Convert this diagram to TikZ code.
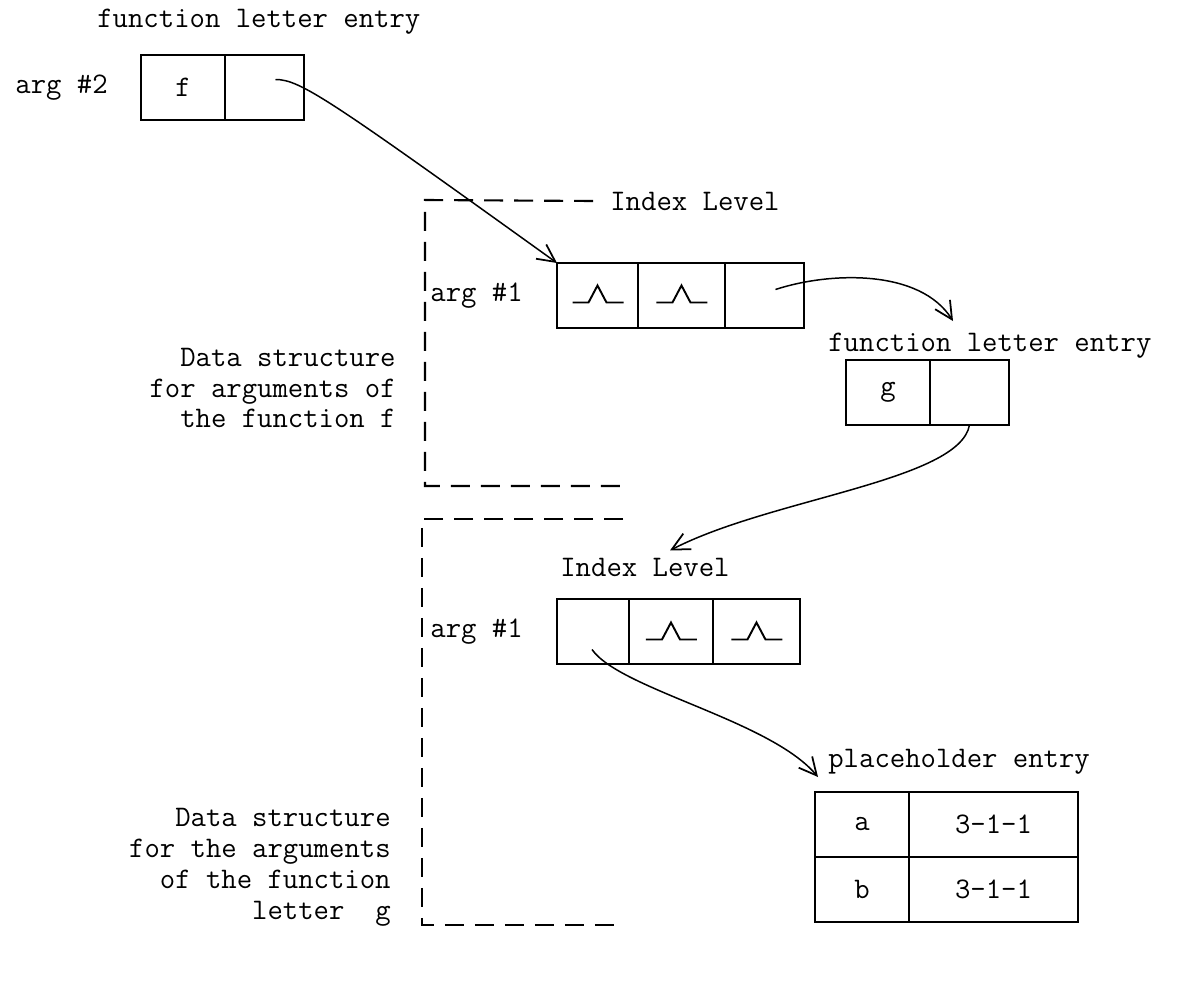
\documentclass[tikz,border=0pt]{standalone}
\usepackage{tikz}
\usetikzlibrary{calc, positioning, arrows.meta}

\begin{document}
\begin{tikzpicture}[x=0.02cm, y=-0.02cm,
    font=\ttfamily\fontsize{17}{17.6}\selectfont,
    peak/.pic={\draw[line width=1.1pt] (-25,7) -- (-9,7) -- (0,-10) -- (9,7) -- (26,7);}]
    % one field of an entry
    \tikzstyle{slot}=[draw, line width=1.2pt, minimum height=1.3cm, inner sep=0pt, outer sep=0pt]
    % plain labels
    \tikzstyle{lbl}=[inner sep=0pt]
    % pointer from a field to an entry
    \tikzstyle{ptr}=[-{Straight Barb[length=10pt,width=10pt,line width=1pt]}, line width=0.85pt]
    % dashed frame round a data structure
    \tikzstyle{frame}=[line width=1.2pt, dash pattern=on 0.38cm off 0.22cm]
    \useasboundingbox (0,0) rectangle (1179,983);

    % function letter entry for f
    \node[lbl, anchor=west] (fname) at (97,22) {function letter entry};
    \node[slot, minimum width=1.68cm] (f1) at (183,87.5) {f};
    \node[slot, minimum width=1.58cm, anchor=west] (f2) at (f1.east) {};
    \node[lbl, left=0.66cm of f1] (arg2) {arg \#2};

    % index level for the arguments of f
    \node[lbl, anchor=west] (lvl1) at (610,201) {Index Level};
    \node[slot, minimum width=1.62cm] (a1) at (597.5,295.5) {};
    \node[slot, minimum width=1.74cm, anchor=west] (a2) at (a1.east) {};
    \node[slot, minimum width=1.58cm, anchor=west] (a3) at (a2.east) {};
    \node[lbl, left=0.68cm of a1] (arg1a) {arg \#1};
    \path (a1.center) pic {peak};
    \path (a2.center) pic {peak};
    \draw[frame] ([xshift=-0.34cm]lvl1.west) -- (425,200) -- (425,486) -- (623,486);
    \node[lbl, anchor=east, align=right] (noteF) at (396,388)
        {Data structure\\for arguments of\\the function f};

    % function letter entry for g
    \node[lbl, anchor=west] (gname) at (828,346) {function letter entry};
    \node[slot, minimum width=1.68cm] (g1) at (888,392.5) {g};
    \node[slot, minimum width=1.58cm, anchor=west] (g2) at (g1.east) {};

    % index level for the arguments of g
    \node[lbl, anchor=west] (lvl2) at (560,567) {Index Level};
    \node[slot, minimum width=1.44cm] (b1) at (593,631.5) {};
    \node[slot, minimum width=1.68cm, anchor=west] (b2) at (b1.east) {};
    \node[slot, minimum width=1.74cm, anchor=west] (b3) at (b2.east) {};
    \node[lbl, left=0.68cm of b1] (arg1b) {arg \#1};
    \path ([yshift=-0.02cm]b2.center) pic {peak};
    \path ([yshift=-0.02cm]b3.center) pic {peak};
    \draw[frame] (623,519) -- (422,519) -- (422,925) -- (620,925);
    \node[lbl, anchor=east, align=right] (noteG) at (391,867)
        {Data structure\\for the arguments\\of the function\\letter\ \ g};

    % placeholder entry
    \node[lbl, anchor=west] (pname) at (828,762) {placeholder entry};
    \node[slot, minimum width=1.88cm] (pa) at (862,824.5) {a};
    \node[slot, minimum width=3.38cm, anchor=west] (pa3) at (pa.east) {3-1-1};
    \node[slot, minimum width=1.88cm, anchor=north] (pb) at (pa.south) {b};
    \node[slot, minimum width=3.38cm, anchor=west] (pb3) at (pb.east) {3-1-1};

    % pointers
    \coordinate (fptr) at ($(f2.center)+(11,-8)$);
    \coordinate (aptr) at ($(a3.center)+(11,-6)$);
    \coordinate (bptr) at ($(b1.center)+(-1,18)$);
    \draw[ptr] (fptr) .. controls +(25,0) and +(-227,-163) .. (a1.north west);
    \draw[ptr] (aptr) .. controls +(55,-18) and +(-33,-52) .. ($(gname.north west)+(125,-12)$);
    \draw[ptr] (g2.south) .. controls +(-10,56) and +(100,-52) .. ($(lvl2.north west)+(110,-7)$);
    \draw[ptr] (bptr) .. controls +(28,40) and +(-48,-57) .. ($(pa.north west)+(3,-15)$);
\end{tikzpicture}
\end{document}
